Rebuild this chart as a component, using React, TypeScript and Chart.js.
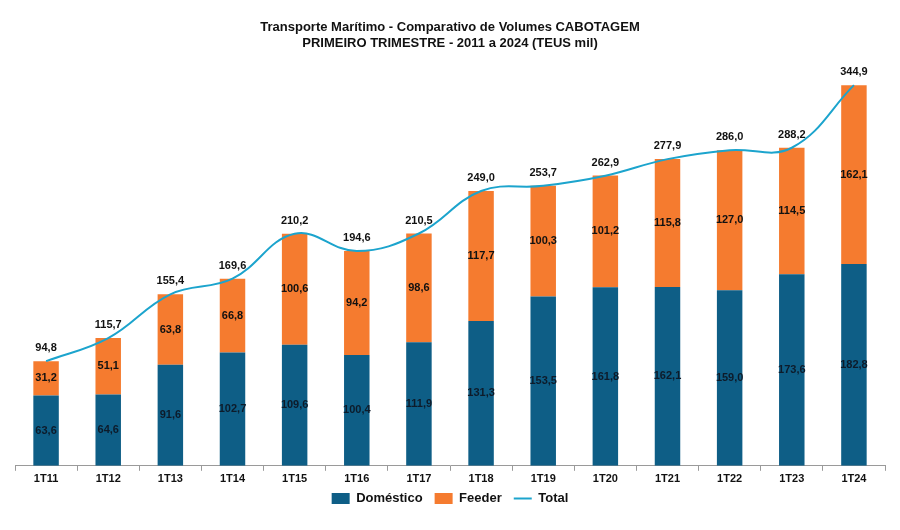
import React, { useEffect, useRef } from "react";
import { Chart, registerables } from "chart.js";

Chart.register(...registerables);

const categories = ["1T11", "1T12", "1T13", "1T14", "1T15", "1T16", "1T17", "1T18", "1T19", "1T20", "1T21", "1T22", "1T23", "1T24"];
const domestico = [63.6, 64.6, 91.6, 102.7, 109.6, 100.4, 111.9, 131.3, 153.5, 161.8, 162.1, 159.0, 173.6, 182.8];
const feeder = [31.2, 51.1, 63.8, 66.8, 100.6, 94.2, 98.6, 117.7, 100.3, 101.2, 115.8, 127.0, 114.5, 162.1];
const total = [94.8, 115.7, 155.4, 169.6, 210.2, 194.6, 210.5, 249.0, 253.7, 262.9, 277.9, 286.0, 288.2, 344.9];
const titleLines = ["Transporte Marítimo - Comparativo de Volumes CABOTAGEM", "PRIMEIRO TRIMESTRE - 2011 a 2024 (TEUS mil)"];

const FONT = "'Liberation Sans', Arial, sans-serif";
const fmt = (v: number) => v.toFixed(1).replace(".", ",");

const labelPlugin = {
  id: "valueLabels",
  afterLayout(chart: any) {
    if (chart.legend) {
      chart.legend.top -= 8;
      chart.legend.bottom -= 8;
    }
  },
  afterDatasetsDraw(chart: any) {
    const ctx = chart.ctx;
    ctx.save();
    ctx.font = `bold 11px ${FONT}`;
    ctx.textAlign = "center";
    ctx.textBaseline = "middle";
    chart.data.datasets.forEach((ds: any, di: number) => {
      const meta = chart.getDatasetMeta(di);
      meta.data.forEach((el: any, i: number) => {
        const v = ds.data[i];
        if (ds.type === "line") {
          ctx.fillStyle = "#111111";
          ctx.fillText(fmt(v), el.x, el.y - 13);
        } else {
          ctx.fillStyle = di === 0 ? "#0d1b2a" : "#111111";
          ctx.fillText(fmt(v), el.x, (el.y + el.base) / 2);
        }
      });
    });
    ctx.restore();
  },
};

export default function App() {
  const ref = useRef<HTMLCanvasElement>(null);
  useEffect(() => {
    document.body.style.margin = "0";
    const chart = new Chart(ref.current as HTMLCanvasElement, {
      data: {
        labels: categories,
        datasets: [
          {
            type: "bar",
            label: "Doméstico",
            data: domestico,
            backgroundColor: "#0E5E86",
            borderWidth: 0,
            stack: "bars",
            barPercentage: 0.41,
            categoryPercentage: 1,
            pointStyle: "rect",
            order: 1,
          },
          {
            type: "bar",
            label: "Feeder",
            data: feeder,
            backgroundColor: "#F57B2F",
            borderWidth: 0,
            stack: "bars",
            barPercentage: 0.41,
            categoryPercentage: 1,
            pointStyle: "rect",
            order: 1,
          },
          {
            type: "line",
            label: "Total",
            data: total,
            borderColor: "#1CA4CD",
            backgroundColor: "#1CA4CD",
            borderWidth: 2,
            tension: 0.4,
            pointRadius: 0,
            pointStyle: "line",
            stack: "total",
            order: 0,
          },
        ] as any,
      },
      options: {
        responsive: false,
        animation: false,
        layout: { padding: { left: 15, right: 15, bottom: 7 } },
        plugins: {
          title: {
            display: true,
            text: titleLines,
            color: "#111111",
            font: { family: FONT, size: 13, weight: "bold", lineHeight: 1.25 },
            padding: { top: 19, bottom: 17 },
          },
          legend: {
            position: "bottom",
            labels: {
              usePointStyle: true,
              pointStyleWidth: 18,
              boxHeight: 11,
              padding: 12,
              color: "#111111",
              font: { family: FONT, size: 13, weight: "bold" },
              sort: (a: any, b: any) => a.datasetIndex - b.datasetIndex,
            },
          },
          tooltip: { enabled: false },
        },
        scales: {
          x: {
            stacked: true,
            grid: { offset: true, drawOnChartArea: false, drawTicks: true, tickLength: 5, color: "#9a9a9a" },
            border: { color: "#9a9a9a", width: 1 },
            ticks: { color: "#111111", font: { family: FONT, size: 11, weight: "bold" }, padding: 2 },
          },
          y: {
            stacked: true,
            display: false,
            min: 0,
            max: 360,
          },
        },
      } as any,
      plugins: [labelPlugin],
    });
    return () => chart.destroy();
  }, []);
  return (
    <div style={{ width: 900, height: 530, background: "#ffffff" }}>
      <canvas ref={ref} width={900} height={530} />
    </div>
  );
}
